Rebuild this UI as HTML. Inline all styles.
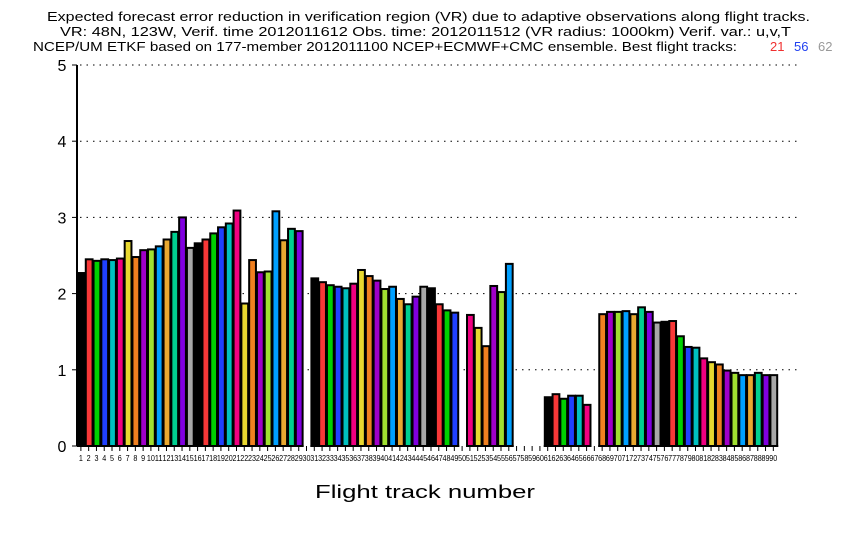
<!DOCTYPE html>
<html><head><meta charset="utf-8"><style>body{margin:0;background:#fff}svg{display:block}</style></head>
<body>
<svg id="s" width="850" height="540" xmlns="http://www.w3.org/2000/svg" font-family="Liberation Sans, sans-serif">
<rect width="850" height="540" fill="#fff"/>
<text x="47" y="21" font-size="13" textLength="763" lengthAdjust="spacingAndGlyphs">Expected forecast error reduction in verification region (VR) due to adaptive observations along flight tracks.</text>
<text x="60" y="36" font-size="13" textLength="731" lengthAdjust="spacingAndGlyphs">VR: 48N, 123W, Verif. time 2012011612 Obs. time: 2012011512 (VR radius: 1000km)  Verif. var.: u,v,T</text>
<text x="33" y="51" font-size="13" textLength="704" lengthAdjust="spacingAndGlyphs">NCEP/UM ETKF based on 177-member 2012011100 NCEP+ECMWF+CMC ensemble. Best flight tracks:</text>
<text x="770" y="51" font-size="13" fill="#f03030">21</text>
<text x="794" y="51" font-size="13" fill="#2040f0">56</text>
<text x="818" y="51" font-size="13" fill="#999">62</text>
<g id="g"></g>
<text x="315" y="498" font-size="18" textLength="220" lengthAdjust="spacingAndGlyphs">Flight track number</text>
</svg>
<script>
const v=[2.27,2.45,2.43,2.45,2.44,2.46,2.69,2.48,2.57,2.58,2.62,2.71,2.81,3.0,2.6,2.66,2.71,2.79,2.87,2.92,3.09,1.87,2.44,2.28,2.29,3.08,2.70,2.85,2.82,0,
2.2,2.15,2.11,2.09,2.07,2.13,2.31,2.23,2.17,2.06,2.09,1.93,1.86,1.96,2.09,2.07,1.86,1.78,1.75,0,1.72,1.55,1.31,2.10,2.02,2.39,0,0,0,0,
0.64,0.68,0.62,0.66,0.66,0.54,0,1.73,1.76,1.76,1.77,1.73,1.82,1.76,1.62,1.63,1.64,1.44,1.30,1.29,1.15,1.10,1.07,0.99,0.96,0.93,0.93,0.96,0.93,0.93];
const c=["#000","#f83838","#00d000","#2040ff","#00c0c0","#f00080","#e8d830","#f08020","#a000c8","#a0e030","#00a0ff","#e8a830","#00d090","#8000e0","#a8a8a8"];
let h="";const X0=77,P=7.78,Y0=446,S=76.2;
for(let i=1;i<=5;i++){const y=Y0-i*S;h+=`<line x1="80" y1="${y}" x2="800" y2="${y}" stroke="#000" stroke-dasharray="1.5 5"/>`;}
for(let i=0;i<=5;i++){const y=Y0-i*S;h+=`<text x="62" y="${y+6}" font-size="16" text-anchor="middle">${i}</text><line x1="72" y1="${y}" x2="77" y2="${y}" stroke="#000"/>`;}
h+=`<line x1="77" y1="65" x2="77" y2="446" stroke="#000" stroke-width="2"/>`;
v.forEach((d,i)=>{const x=X0+i*P;
 if(d>0){const y=Y0-d*S;h+=`<rect x="${x+1}" y="${y}" width="${P-1}" height="${Y0-y}" fill="${c[i%15]}" stroke="#000" stroke-width="2"/>`;
 h+=`<line x1="${x}" y1="446" x2="${x+P+1}" y2="446" stroke="#000" stroke-width="2"/>`;}
 h+=`<line x1="${x+P/2}" y1="446" x2="${x+P/2}" y2="451" stroke="#000"/>`;
 h+=`<text x="${x+P/2}" y="461" font-size="8" text-anchor="middle" textLength="${i<9?4:8}" lengthAdjust="spacingAndGlyphs">${i+1}</text>`;});
document.getElementById("g").innerHTML=h;
</script>
</body></html>
